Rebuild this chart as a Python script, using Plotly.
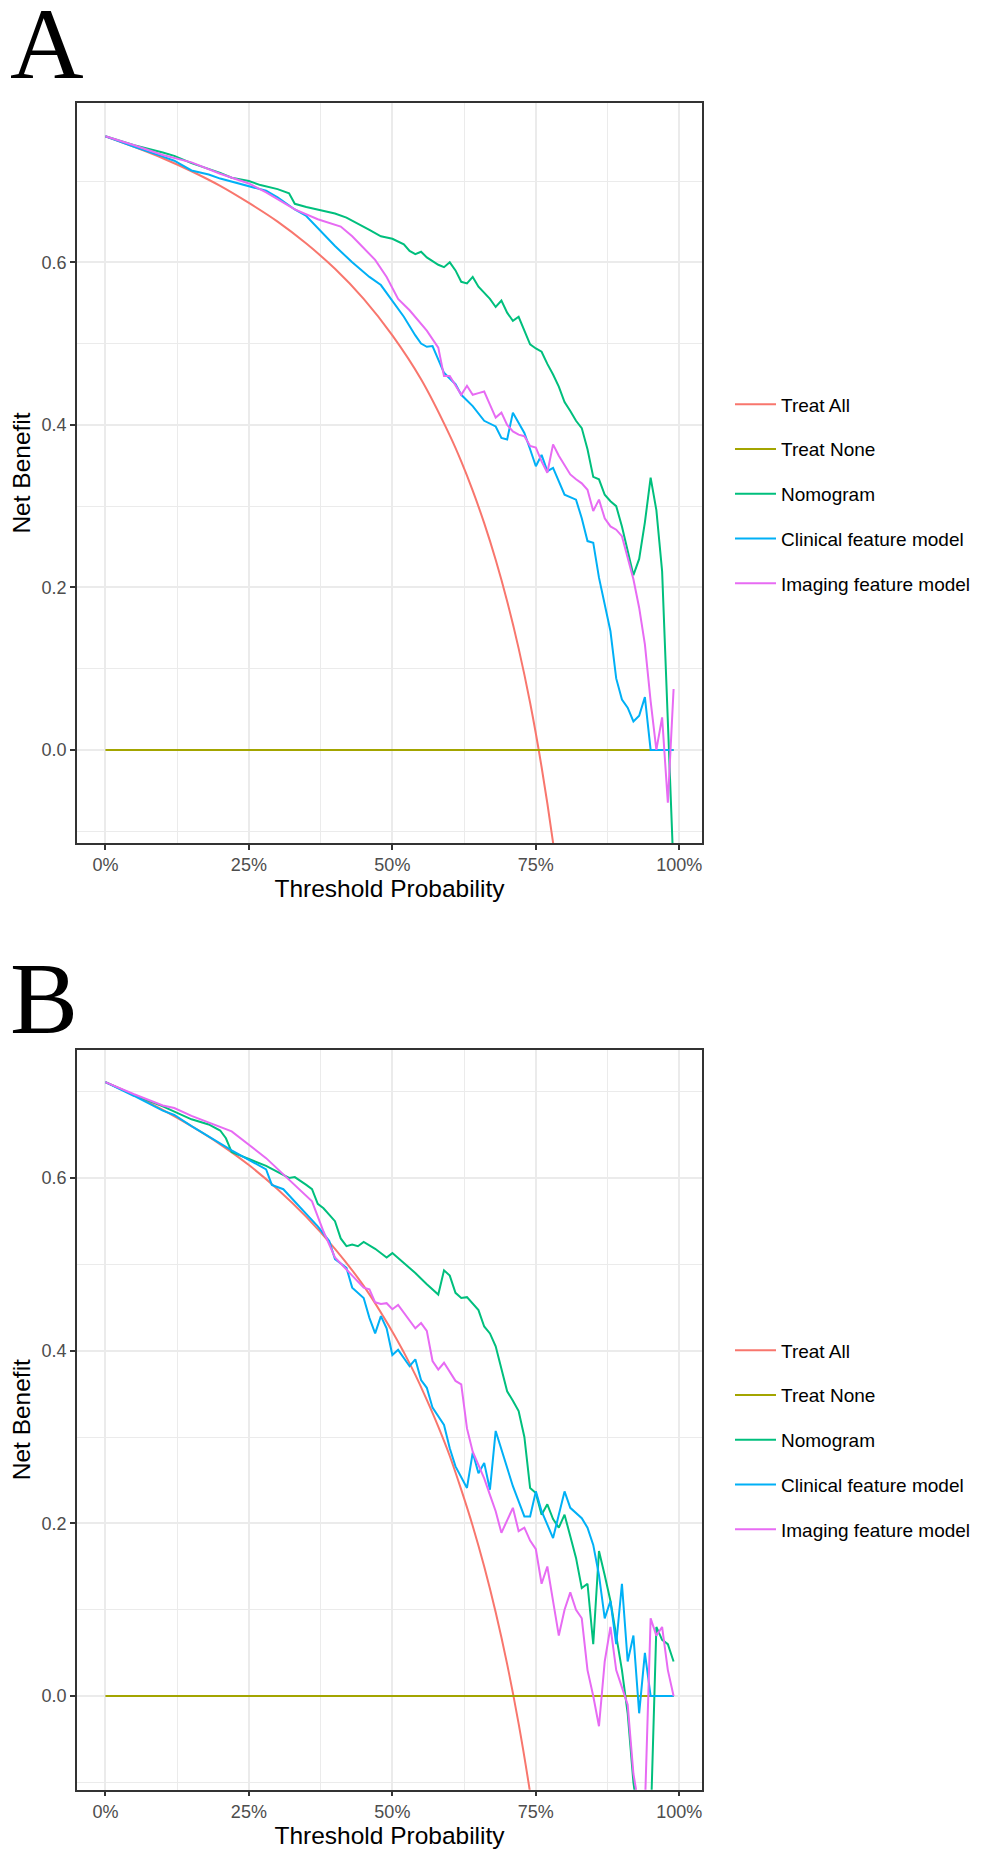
import plotly.graph_objects as go

# threshold axis ticks
x_ticks = [0, 0.25, 0.5, 0.75, 1.0]
x_labels = ["0%", "25%", "50%", "75%", "100%"]
y_ticks = [0.0, 0.2, 0.4, 0.6]

names = ["Treat All", "Treat None", "Nomogram", "Clinical feature model", "Imaging feature model"]
colors = ["#F8766D", "#A3A500", "#00BF7D", "#00B0F6", "#E76BF3"]

# ---------------- panel A ----------------
a_all_pt = [0, .05, .10, .15, .20, .25, .30, .35, .40, .45, .50, .55, .60, .62, .64, .66, .68, .70, .72, .74, .76, .78, .80]
a_all_nb = [0.755, 0.742, 0.728, 0.712, 0.694, 0.673, 0.650, 0.623, 0.592, 0.555, 0.510, 0.456, 0.387,
            0.355, 0.319, 0.279, 0.234, 0.183, 0.125, 0.058, -0.021, -0.114, -0.225]
a_none_pt = [0, 0.99]
a_none_nb = [0, 0]

a_nomo_pt = [0, .05, .10, .12, .15, .20, .22, .25, .27, .30, .32, .33, .35, .37, .40, .42, .44, .46, .48, .50,
             .52, .53, .54, .55, .56, .58, .59, .60, .61, .62, .63, .64, .65, .66, .67, .68, .69, .70, .71, .72,
             .73, .74, .75, .76, .77, .78, .79, .80, .81, .82, .83, .84, .85, .86, .87, .88, .89, .90, .91, .92,
             .93, .94, .95, .96, .97, .98, .99]
a_nomo_nb = [0.755, 0.744, 0.735, 0.731, 0.722, 0.710, 0.704, 0.700, 0.695, 0.690, 0.685, 0.672, 0.668, 0.665,
             0.660, 0.655, 0.648, 0.640, 0.632, 0.629, 0.622, 0.614, 0.610, 0.613, 0.606, 0.597, 0.594, 0.600,
             0.590, 0.576, 0.574, 0.582, 0.570, 0.563, 0.555, 0.545, 0.553, 0.538, 0.528, 0.533, 0.515, 0.499,
             0.494, 0.490, 0.475, 0.462, 0.447, 0.428, 0.417, 0.405, 0.396, 0.370, 0.336, 0.333, 0.314, 0.306,
             0.300, 0.275, 0.245, 0.215, 0.235, 0.280, 0.335, 0.295, 0.220, 0.020, -0.150]

a_clin_pt = [0, .05, .10, .12, .15, .18, .20, .25, .28, .30, .33, .35, .37, .40, .43, .46, .48, .50, .52, .54,
             .55, .56, .57, .59, .61, .62, .64, .66, .68, .69, .70, .71, .72, .73, .74, .75, .76, .77, .78, .79,
             .80, .82, .83, .84, .85, .86, .87, .88, .89, .90, .91, .92, .93, .94, .95, .96, .97, .98, .99]
a_clin_nb = [0.755, 0.742, 0.730, 0.725, 0.713, 0.708, 0.703, 0.694, 0.688, 0.680, 0.665, 0.657, 0.642, 0.620,
             0.600, 0.582, 0.572, 0.553, 0.533, 0.510, 0.500, 0.496, 0.497, 0.464, 0.450, 0.437, 0.423, 0.405,
             0.398, 0.384, 0.382, 0.415, 0.402, 0.390, 0.370, 0.349, 0.363, 0.343, 0.347, 0.330, 0.314, 0.308,
             0.285, 0.257, 0.255, 0.212, 0.180, 0.146, 0.088, 0.062, 0.052, 0.035, 0.042, 0.065, 0.0, 0.0, 0.0,
             0.0, 0.0]

a_img_pt = [0, .05, .10, .15, .20, .25, .28, .33, .37, .41, .43, .45, .47, .49, .51, .53, .56, .58, .59, .60,
            .62, .63, .64, .65, .66, .67, .68, .69, .70, .71, .72, .73, .74, .75, .76, .77, .78, .79, .80, .81,
            .82, .83, .84, .85, .86, .87, .88, .89, .90, .91, .92, .93, .94, .95, .96, .97, .98, .99]
a_img_nb = [0.755, 0.744, 0.732, 0.723, 0.709, 0.697, 0.686, 0.665, 0.653, 0.644, 0.632, 0.617, 0.603, 0.582,
            0.555, 0.541, 0.516, 0.495, 0.460, 0.460, 0.437, 0.448, 0.437, 0.439, 0.441, 0.425, 0.409, 0.415,
            0.400, 0.392, 0.388, 0.386, 0.374, 0.372, 0.355, 0.341, 0.376, 0.362, 0.350, 0.339, 0.333, 0.328,
            0.320, 0.294, 0.308, 0.285, 0.275, 0.271, 0.263, 0.236, 0.210, 0.175, 0.130, 0.060, 0.000, 0.040,
            -0.065, 0.075]

# ---------------- panel B ----------------
b_all_pt = [0, .05, .10, .15, .20, .25, .30, .35, .40, .45, .50, .52, .54, .56, .58, .60, .62, .64, .66, .68,
            .70, .72, .74, .76]
b_all_nb = [0.711, 0.696, 0.679, 0.660, 0.639, 0.615, 0.587, 0.555, 0.518, 0.475, 0.422, 0.398, 0.372, 0.343,
            0.312, 0.278, 0.239, 0.197, 0.150, 0.097, 0.037, -0.032, -0.112, -0.204]
b_none_pt = [0, 0.99]
b_none_nb = [0, 0]

b_nomo_pt = [0, .05, .10, .12, .15, .18, .20, .21, .22, .25, .28, .32, .33, .35, .36, .37, .38, .40, .41, .42,
             .43, .44, .45, .47, .49, .50, .52, .54, .56, .58, .59, .60, .61, .62, .63, .64, .65, .66, .67, .68,
             .69, .70, .71, .72, .73, .74, .75, .76, .77, .78, .79, .80, .81, .82, .83, .84, .85, .86, .87, .88,
             .89, .90, .91, .92, .93, .94, .95, .96, .97, .98, .99]
b_nomo_nb = [0.711, 0.696, 0.683, 0.677, 0.668, 0.662, 0.655, 0.646, 0.630, 0.622, 0.614, 0.600, 0.601, 0.592,
             0.587, 0.570, 0.565, 0.550, 0.530, 0.521, 0.523, 0.521, 0.526, 0.518, 0.508, 0.513, 0.502, 0.490,
             0.477, 0.465, 0.493, 0.487, 0.467, 0.461, 0.462, 0.455, 0.447, 0.428, 0.420, 0.405, 0.380, 0.353,
             0.342, 0.330, 0.300, 0.241, 0.235, 0.210, 0.222, 0.205, 0.195, 0.210, 0.185, 0.160, 0.125, 0.130,
             0.060, 0.168, 0.140, 0.110, 0.070, 0.030, -0.020, -0.100, -0.150, -0.150, -0.150, 0.080, 0.065,
             0.060, 0.040]

b_clin_pt = [0, .05, .10, .12, .15, .18, .19, .22, .28, .29, .31, .37, .39, .40, .42, .43, .45, .46, .47, .48,
             .49, .50, .51, .53, .54, .55, .56, .57, .59, .60, .61, .63, .64, .65, .66, .67, .68, .71, .73, .74,
             .75, .76, .78, .80, .81, .83, .84, .85, .86, .87, .88, .89, .90, .91, .92, .93, .94, .95, .96, .97,
             .98, .99]
b_clin_nb = [0.711, 0.695, 0.678, 0.673, 0.660, 0.648, 0.645, 0.632, 0.610, 0.592, 0.587, 0.544, 0.527, 0.506,
             0.496, 0.473, 0.461, 0.438, 0.420, 0.440, 0.426, 0.395, 0.401, 0.382, 0.390, 0.366, 0.357, 0.334,
             0.314, 0.287, 0.266, 0.241, 0.282, 0.258, 0.270, 0.239, 0.307, 0.243, 0.208, 0.208, 0.237, 0.214,
             0.183, 0.237, 0.218, 0.206, 0.195, 0.175, 0.140, 0.090, 0.110, 0.060, 0.130, 0.040, 0.070, -0.020,
             0.050, 0.0, 0.0, 0.0, 0.0, 0.0]

b_img_pt = [0, .05, .10, .12, .15, .22, .28, .36, .38, .40, .45, .46, .47, .48, .49, .50, .51, .54, .55, .56,
            .57, .58, .59, .61, .62, .63, .64, .66, .67, .68, .69, .71, .72, .73, .74, .75, .76, .77, .78, .79,
            .80, .81, .82, .83, .84, .85, .86, .87, .88, .89, .90, .91, .92, .93, .94, .95, .96, .97, .98, .99]
b_img_nb = [0.711, 0.697, 0.684, 0.681, 0.672, 0.654, 0.623, 0.573, 0.538, 0.508, 0.473, 0.471, 0.456, 0.454,
            0.455, 0.448, 0.453, 0.426, 0.432, 0.423, 0.388, 0.378, 0.386, 0.365, 0.361, 0.310, 0.283, 0.252,
            0.233, 0.214, 0.189, 0.218, 0.191, 0.195, 0.180, 0.170, 0.130, 0.150, 0.110, 0.070, 0.100, 0.120,
            0.100, 0.090, 0.030, 0.000, -0.035, 0.040, 0.080, 0.030, 0.010, -0.010, -0.090, -0.130, -0.130,
            0.090, 0.070, 0.080, 0.030, 0.000]

panels = [
    ("x", "y", "legend", [
        (a_all_pt, a_all_nb), (a_none_pt, a_none_nb), (a_nomo_pt, a_nomo_nb),
        (a_clin_pt, a_clin_nb), (a_img_pt, a_img_nb)]),
    ("x2", "y2", "legend2", [
        (b_all_pt, b_all_nb), (b_none_pt, b_none_nb), (b_nomo_pt, b_nomo_nb),
        (b_clin_pt, b_clin_nb), (b_img_pt, b_img_nb)]),
]

fig = go.Figure()
for xa, ya, lg, series in panels:
    for i, (pt, nb) in enumerate(series):
        fig.add_trace(go.Scatter(
            x=pt, y=nb, mode="lines", name=names[i],
            line=dict(color=colors[i], width=2, shape="spline" if i == 0 else "linear"),
            xaxis=xa, yaxis=ya, legend=lg, legendgroup=lg + str(i),
        ))

W, H = 981, 1856
grid = "#EBEBEB"
border = "#333333"
tick_font = dict(family="Liberation Sans, Arial", size=18, color="#4D4D4D")
title_font = dict(family="Liberation Sans, Arial", size=24.5, color="black")


def xaxis(dom):
    return dict(domain=dom, range=[-0.0495, 1.0395], tickvals=x_ticks, ticktext=x_labels,
                showgrid=True, gridcolor=grid, gridwidth=1.6, zeroline=False,
                minor=dict(tickvals=[0.125, 0.375, 0.625, 0.875], showgrid=True, gridcolor=grid,
                           gridwidth=0.9, ticks=""),
                showline=True, mirror=True, linecolor=border, linewidth=1.5,
                ticks="outside", ticklen=5, tickwidth=1.5, tickcolor=border,
                tickfont=tick_font, title=dict(text="Threshold Probability", font=title_font, standoff=5))


def yaxis(dom, rng, anchor):
    return dict(domain=dom, range=rng, anchor=anchor, tickvals=y_ticks, tickformat=".1f",
                showgrid=True, gridcolor=grid, gridwidth=1.6, zeroline=False,
                minor=dict(tickvals=[-0.1, 0.1, 0.3, 0.5, 0.7], showgrid=True, gridcolor=grid,
                           gridwidth=0.9, ticks=""),
                showline=True, mirror=True, linecolor=border, linewidth=1.5,
                ticks="outside", ticklen=5, tickwidth=1.5, tickcolor=border,
                tickfont=tick_font, title=dict(text="Net Benefit", font=title_font, standoff=7))


xdom = [69 / W, 694 / W]
dom_a = [1 - 835 / H, 1 - 95 / H]
dom_b = [1 - 1781.7 / H, 1 - 1041.7 / H]

leg = dict(xanchor="left", yanchor="middle", font=dict(family="Liberation Sans, Arial", size=19, color="black"),
           tracegroupgap=17, itemwidth=41, bgcolor="rgba(0,0,0,0)")

fig.update_layout(
    width=W, height=H, margin=dict(l=0, r=0, t=0, b=0),
    paper_bgcolor="white", plot_bgcolor="white",
    xaxis=dict(xaxis(xdom), anchor="y"),
    yaxis=yaxis(dom_a, [-0.1145, 0.796], "x"),
    xaxis2=dict(xaxis(xdom), anchor="y2"),
    yaxis2=yaxis(dom_b, [-0.1085, 0.7486], "x2"),
    legend=dict(leg, x=722 / W, y=1 - 486 / H),
    legend2=dict(leg, x=722 / W, y=1 - 1432 / H),
    annotations=[
        dict(text="A", x=0.0, y=1 - 36 / H, xref="paper", yref="paper", xanchor="left", yanchor="middle",
             showarrow=False, font=dict(family="Liberation Serif, Times New Roman", size=102, color="black")),
        dict(text="B", x=0.0, y=1 - 990 / H, xref="paper", yref="paper", xanchor="left", yanchor="middle",
             showarrow=False, font=dict(family="Liberation Serif, Times New Roman", size=102, color="black")),
    ],
)

fig.write_html("out.html")
